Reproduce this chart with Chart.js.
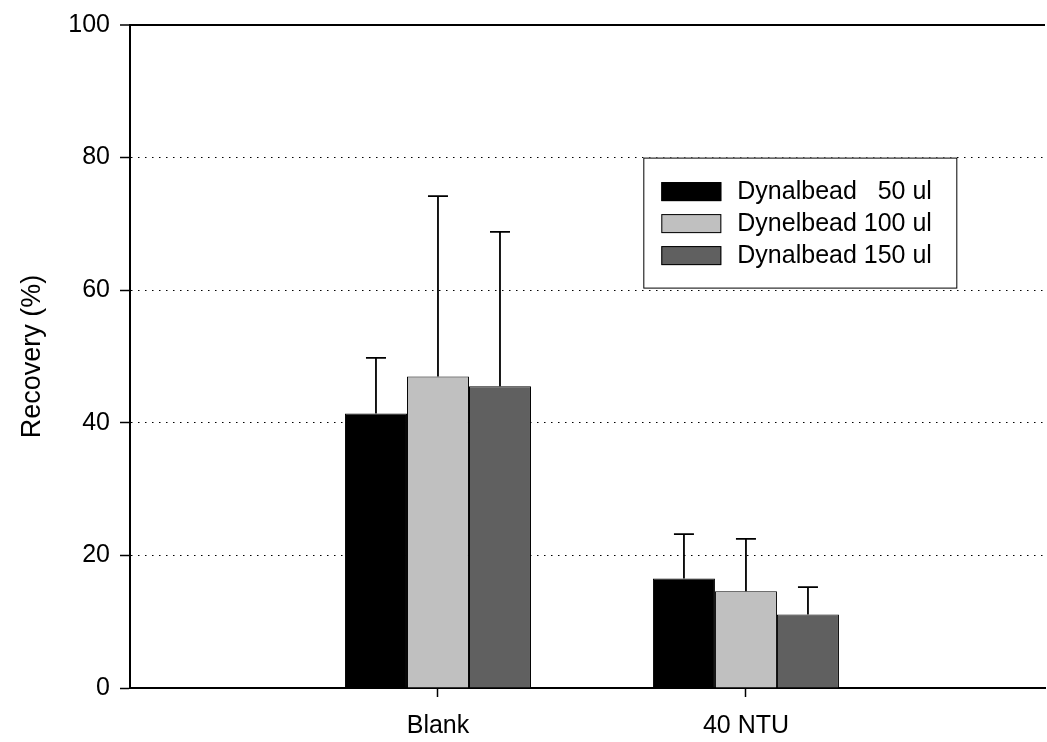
<!DOCTYPE html>
<html>
<head>
<meta charset="utf-8">
<script src="https://cdn.jsdelivr.net/npm/chart.js@4.4.1/dist/chart.umd.min.js"></script>
<style>
  html, body { margin: 0; padding: 0; background: #fff; }
  #wrap { width: 1047px; height: 742px; }
</style>
</head>
<body>
<div id="wrap"><canvas id="chart" width="1047" height="742"></canvas></div>
<script>
// values
var categories = ['Blank', '40 NTU'];
var seriesNames = ['Dynalbead   50 ul', 'Dynelbead 100 ul', 'Dynalbead 150 ul'];
var mean50  = [41.4, 16.5];
var mean100 = [47.0, 14.6];
var mean150 = [45.5, 11.1];
var err50   = [8.4, 6.7];
var err100  = [27.2, 7.9];
var err150  = [23.3, 4.1];
var yTicks  = [0, 20, 40, 60, 80, 100];
var fills   = ['#000000', '#c0c0c0', '#606060'];

var FONT = "'Liberation Sans', Arial, Helvetica, sans-serif";

function points(vals){
  return vals.map(function(v, i){ return {x: i + 1, y: v}; });
}

var errorBars = {
  id: 'errorBars',
  afterDatasetsDraw: function(chart){
    var ctx = chart.ctx, ys = chart.scales.y;
    chart.data.datasets.forEach(function(ds, di){
      var meta = chart.getDatasetMeta(di);
      meta.data.forEach(function(el, i){
        var top = ys.getPixelForValue(ds.data[i].y + ds.errors[i]);
        ctx.save();
        ctx.strokeStyle = '#000';
        ctx.lineWidth = 1.8;
        ctx.beginPath();
        ctx.moveTo(el.x, el.y);
        ctx.lineTo(el.x, top);
        ctx.moveTo(el.x - 10, top);
        ctx.lineTo(el.x + 10, top);
        ctx.stroke();
        ctx.restore();
      });
    });
  }
};

var boxLegend = {
  id: 'boxLegend',
  afterDraw: function(chart){
    var ctx = chart.ctx, a = chart.chartArea, ys = chart.scales.y;
    var x0 = a.left + 0.561 * (a.right - a.left);
    var y0 = ys.getPixelForValue(80);
    var w = 313, h = 130;
    ctx.save();
    ctx.fillStyle = '#fff';
    ctx.fillRect(x0, y0, w, h);
    ctx.strokeStyle = '#000';
    ctx.lineWidth = 1;
    ctx.strokeRect(x0 + 0.5, y0 + 0.5, w, h);
    ctx.font = '25px ' + FONT;
    ctx.textBaseline = 'middle';
    chart.data.datasets.forEach(function(ds, i){
      var cy = y0 + 34 + i * 32;
      ctx.fillStyle = ds.backgroundColor;
      ctx.fillRect(x0 + 18, cy - 9.5, 60, 19);
      ctx.strokeStyle = '#000';
      ctx.strokeRect(x0 + 18.5, cy - 9, 59, 18);
      ctx.fillStyle = '#000';
      ctx.fillText(ds.label, x0 + 94, cy + 1);
    });
    ctx.restore();
  }
};

var datasets = [mean50, mean100, mean150].map(function(vals, i){
  return {
    label: seriesNames[i],
    data: points(vals),
    errors: [err50, err100, err150][i],
    backgroundColor: fills[i],
    borderColor: '#000',
    borderWidth: 1,
    categoryPercentage: 0.604,
    barPercentage: 1
  };
});

new Chart(document.getElementById('chart').getContext('2d'), {
  type: 'bar',
  data: { datasets: datasets },
  options: {
    responsive: false,
    animation: false,
    layout: { padding: { top: 24, right: 2, left: 0, bottom: 0 } },
    plugins: { legend: { display: false }, tooltip: { enabled: false } },
    scales: {
      x: {
        type: 'linear',
        offset: false,
        min: 0,
        max: 2.971,
        afterBuildTicks: function(s){ s.ticks = categories.map(function(c, i){ return {value: i + 1}; }); },
        afterFit: function(s){ s.height = 54; },
        grid: { offset: false, drawOnChartArea: false, drawTicks: true, tickLength: 9, tickColor: '#000', tickWidth: 1.5 },
        border: { color: '#000', width: 2 },
        ticks: {
          autoSkip: false,
          maxRotation: 0,
          padding: 14,
          color: '#000',
          font: { family: FONT, size: 25 },
          callback: function(v){ return categories[Math.round(v) - 1] || ''; }
        }
      },
      y: {
        min: 0,
        max: 100,
        afterBuildTicks: function(s){ s.ticks = yTicks.map(function(v){ return {value: v}; }); },
        afterFit: function(s){ s.width = 130; },
        grid: {
          color: function(c){ return c.tick.value === 0 ? 'rgba(0,0,0,0)' : '#000'; },
          lineWidth: function(c){ return c.tick.value === 100 ? 2 : 1; },
          tickLength: 10,
          tickColor: '#000',
          tickWidth: 1.5
        },
        border: {
          color: '#000',
          width: 2,
          dash: function(c){ return c.tick && c.tick.value === 100 ? [] : [1.5, 5.5]; }
        },
        title: {
          display: true,
          text: 'Recovery (%)',
          color: '#000',
          font: { family: FONT, size: 27 },
          padding: { top: 16, bottom: 0 }
        },
        ticks: {
          padding: 10,
          color: '#000',
          font: { family: FONT, size: 25 }
        }
      }
    }
  },
  plugins: [errorBars, boxLegend]
});
</script>
</body>
</html>
